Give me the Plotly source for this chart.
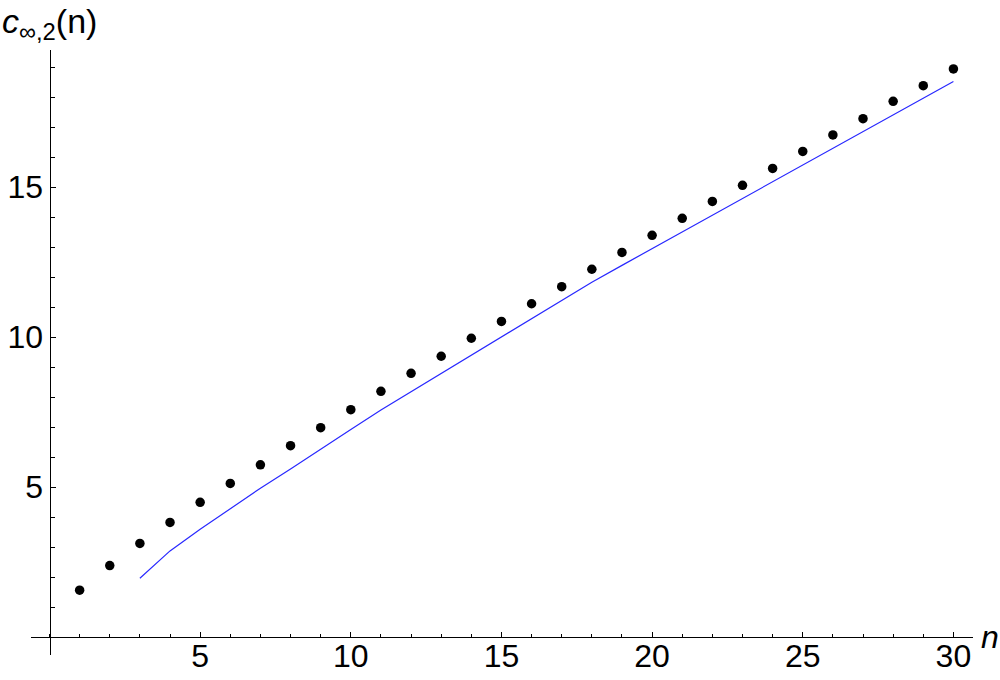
import plotly.graph_objects as go

# ---- data ----
n_points = list(range(1, 31))
c_values = [1.56, 2.38, 3.12, 3.82, 4.49, 5.12, 5.74, 6.38, 6.98, 7.58,
            8.19, 8.79, 9.36, 9.96, 10.52, 11.11, 11.68, 12.26, 12.82, 13.39,
            13.96, 14.52, 15.06, 15.62, 16.19, 16.74, 17.28, 17.86, 18.38, 18.94]

n_line = list(range(3, 31))
line_values = [1.96, 2.87, 3.59, 4.29, 4.96, 5.60, 6.27, 6.92, 7.57, 8.18,
               8.79, 9.40, 10.00, 10.61, 11.22, 11.83, 12.39, 12.95, 13.51, 14.07,
               14.62, 15.18, 15.74, 16.30, 16.85, 17.41, 17.96, 18.52]

x_tickvals = [5, 10, 15, 20, 25, 30]
y_tickvals = [5, 10, 15]

x_range = [-0.614, 30.65]
y_range = [-0.60, 19.57]

FONT = "Arial, Liberation Sans, sans-serif"

fig = go.Figure()
fig.add_trace(go.Scatter(
    x=n_line, y=line_values, mode="lines",
    line=dict(color="rgb(40,40,255)", width=1.2),
    hoverinfo="skip", showlegend=False))
fig.add_trace(go.Scatter(
    x=n_points, y=c_values, mode="markers",
    marker=dict(color="black", size=9.5, line=dict(width=0)),
    showlegend=False))

xpos = (0 - y_range[0]) / (y_range[1] - y_range[0])
ypos = (0 - x_range[0]) / (x_range[1] - x_range[0])

fig.update_layout(
    width=1000, height=680,
    margin=dict(l=31, r=27, t=50, b=25, autoexpand=False),
    plot_bgcolor="white", paper_bgcolor="white",
    font=dict(family=FONT, size=32, color="black"),
    xaxis=dict(
        range=x_range, anchor="free", position=xpos, automargin=False,
        showgrid=False, zeroline=False, showline=True,
        linecolor="black", linewidth=1,
        tickvals=x_tickvals, ticks="inside", ticklen=5, tickwidth=1,
        tickcolor="black", ticklabelstandoff=-9,
        minor=dict(dtick=1, tick0=0, ticks="inside", ticklen=3,
                   tickcolor="black", tickwidth=1),
        tickfont=dict(family=FONT, size=32, color="black"),
    ),
    yaxis=dict(
        range=y_range, anchor="free", position=ypos, automargin=False,
        showgrid=False, zeroline=False, showline=True,
        linecolor="black", linewidth=1,
        tickvals=y_tickvals, ticks="inside", ticklen=5, tickwidth=1,
        tickcolor="black",
        minor=dict(dtick=1, tick0=0, ticks="inside", ticklen=4,
                   tickcolor="black", tickwidth=1),
        tickfont=dict(family=FONT, size=32, color="black"),
    ),
    annotations=[
        dict(text="<i>c</i><sub>∞,2</sub>(n)", xref="paper", yref="paper",
             x=-0.033, y=1.0, xanchor="left", yanchor="bottom",
             showarrow=False, font=dict(family=FONT, size=34, color="black"),
             yshift=3),
        dict(text="<i>n</i>", xref="paper", yref="paper",
             x=1.0, y=xpos, xanchor="left", yanchor="middle",
             showarrow=False, font=dict(family=FONT, size=32, color="black"),
             xshift=6, yshift=0),
    ],
)

fig.write_html("out.html",
               config={"displayModeBar": False},
               post_script="document.body.style.margin='0';document.body.style.overflow='hidden';")
